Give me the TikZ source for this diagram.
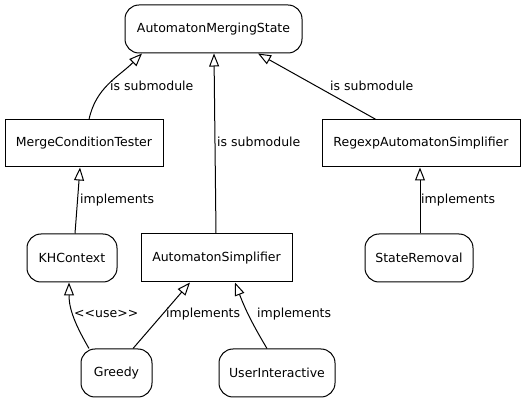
\documentclass[tikz,border=0pt]{standalone}
\usepackage{fontspec}
\setmainfont{DejaVu Sans}
\usetikzlibrary{arrows.meta}
\begin{document}
\begin{tikzpicture}[x=1pt,y=-1pt,
  every node/.style={font=\fontsize{12.5}{14}\selectfont, inner sep=0pt},
  rbox/.style={draw, line width=1pt, rounded corners=14pt, minimum height=48pt},
  sbox/.style={draw, line width=1pt, minimum height=47pt},
  edge/.style={draw, line width=1pt, -{Triangle[open,length=13pt,width=10pt]}},
  lbl/.style={anchor=west}]
\useasboundingbox (0,0) rectangle (528,403);
\node[rbox, minimum width=177pt] (ams) at (213.5,29) {AutomatonMergingState};
\node[sbox, minimum width=158pt] (mct) at (84,143.5) {MergeConditionTester};
\node[sbox, minimum width=198pt] (ras) at (421,143.5) {RegexpAutomatonSimplifier};
\node[rbox, minimum width=90pt] (kh) at (72,258) {KHContext};
\node[sbox, minimum width=151pt, minimum height=48pt] (as) at (216.5,258) {AutomatonSimplifier};
\node[rbox, minimum width=108pt] (sr) at (419,258) {StateRemoval};
\node[rbox, minimum width=71pt] (gr) at (116.5,373) {Greedy};
\node[rbox, minimum width=116pt] (ui) at (277,373) {UserInteractive};

\draw[edge] ([xshift=5pt]mct.north) to[out=78,in=225] ([xshift=-71.5pt]ams.south);
\node[lbl] (l1) at (110,86) {is submodule};
\draw[edge] ([xshift=-0.5pt]as.north) -- ([xshift=0.5pt]ams.south);
\node[lbl] (l2) at (217,142) {is submodule};
\draw[edge] ([xshift=-45pt]ras.north) -- ([xshift=44.5pt]ams.south);
\node[lbl] (l3) at (330,86) {is submodule};
\draw[edge] ([xshift=3pt]kh.north) -- ([xshift=-4pt]mct.north |- mct.south);
\node[lbl] (l4) at (80,200) {implements};
\draw[edge] ([xshift=1pt]sr.north) -- ([xshift=-1pt]ras.south);
\node[lbl] (l5) at (421,200) {implements};
\draw[edge] ([xshift=-27.5pt]gr.north) to[out=120,in=-90] ([xshift=-3pt]kh.south);
\node[lbl] (l6) at (74,314) {<{}<use>{}>};
\draw[edge] ([xshift=16.5pt]gr.north) -- ([xshift=-26.5pt]as.south);
\node[lbl] (l7) at (166,314) {implements};
\draw[edge] ([xshift=-10pt]ui.north) to[bend left=5] ([xshift=18.5pt]as.south);
\node[lbl] (l8) at (257,314) {implements};
\end{tikzpicture}
\end{document}
